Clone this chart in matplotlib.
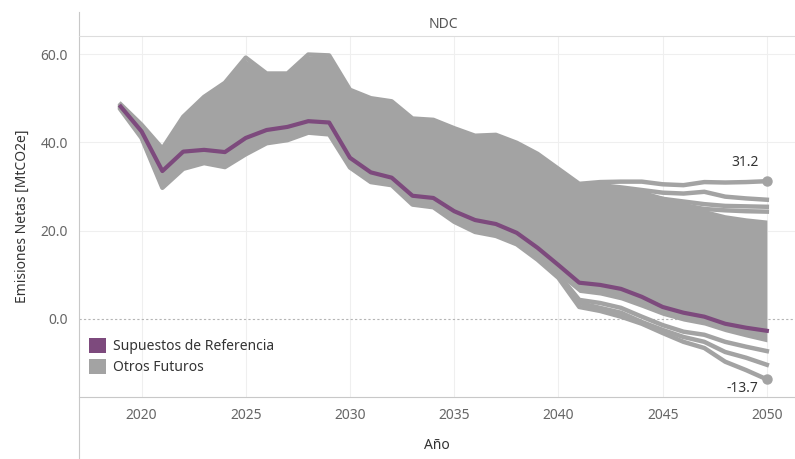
import matplotlib.pyplot as plt
from matplotlib.lines import Line2D
from matplotlib.patches import Patch

plt.rcParams['font.family'] = ['Noto Sans', 'DejaVu Sans']

# years of the run
anios = list(range(2019, 2051))

# purple reference future
referencia = [48.1, 42.5, 33.5, 37.9, 38.3, 37.8, 41.0, 42.8, 43.5, 44.8, 44.5,
              36.5, 33.2, 32.0, 27.9, 27.4, 24.4, 22.4, 21.5, 19.5, 16.1, 12.2,
              8.2, 7.7, 6.8, 5.0, 2.7, 1.4, 0.5, -1.1, -2.0, -2.7]

# highest future (ends at 31.2)
futuro_max = [48.6, 44.0, 38.6, 45.8, 50.3, 53.5, 59.2, 55.6, 55.6, 59.9, 59.7,
              51.9, 50.0, 49.3, 45.4, 45.1, 43.2, 41.5, 41.7, 39.9, 37.4, 34.0,
              30.6, 31.0, 31.1, 31.1, 30.5, 30.3, 31.0, 30.9, 31.0, 31.2]

# lowest future (ends at -13.7)
futuro_min = [47.4, 41.0, 29.7, 34.0, 35.3, 34.4, 37.3, 39.8, 40.5, 42.2, 41.8,
              34.3, 31.0, 30.3, 25.9, 25.3, 22.0, 19.7, 18.8, 16.9, 13.4, 9.3,
              2.7, 1.8, 0.5, -1.1, -3.2, -5.2, -6.6, -9.7, -11.6, -13.7]

# a few more futures that split off from the bundle near the end
futuro_b = [48.3, 43.5, 37.5, 44.8, 49.5, 52.5, 58.0, 54.8, 54.8, 59.0, 58.8,
            51.0, 49.2, 48.5, 44.6, 44.3, 42.4, 40.7, 40.8, 39.0, 36.6, 33.2,
            30.0, 30.3, 29.8, 29.2, 28.6, 28.4, 28.8, 27.7, 27.3, 27.0]
futuro_c = [48.0, 43.0, 37.0, 44.0, 48.5, 51.5, 57.0, 54.0, 54.0, 58.0, 58.0,
            50.5, 48.5, 48.0, 44.0, 43.8, 42.0, 40.2, 40.2, 38.5, 36.0, 32.5,
            29.5, 29.4, 28.8, 28.0, 27.2, 26.6, 26.0, 25.6, 25.5, 25.4]
futuro_d = [48.0, 43.0, 36.5, 43.5, 48.0, 51.0, 56.5, 53.5, 53.5, 57.5, 57.5,
            50.0, 48.0, 47.5, 43.5, 43.3, 41.5, 39.8, 39.8, 38.0, 35.5, 32.0,
            29.2, 29.0, 28.4, 27.5, 26.6, 25.8, 24.9, 24.6, 24.4, 24.3]
futuro_e = [47.6, 41.4, 30.2, 34.5, 35.8, 34.9, 37.8, 40.3, 41.0, 42.7, 42.3,
            34.8, 31.5, 30.8, 26.4, 25.8, 22.5, 20.2, 19.3, 17.4, 13.9, 9.8,
            3.6, 2.5, 1.4, -0.7, -2.5, -4.1, -5.2, -7.5, -8.8, -10.4]
futuro_f = [47.7, 41.6, 30.5, 34.8, 36.1, 35.2, 38.1, 40.6, 41.3, 43.0, 42.6,
            35.1, 31.8, 31.1, 26.7, 26.1, 22.8, 20.5, 19.6, 17.7, 14.2, 10.1,
            4.3, 3.6, 2.5, 0.5, -1.4, -2.9, -3.6, -5.2, -6.3, -7.3]

# edges of the dense bundle of the other futures
banda_sup = [48.3, 43.6, 38.0, 45.2, 49.8, 53.0, 58.6, 55.0, 55.0, 59.2, 59.0,
             51.3, 49.4, 48.7, 44.8, 44.5, 42.6, 40.9, 41.0, 39.2, 36.8, 33.4,
             30.0, 30.2, 30.0, 29.2, 27.8, 26.5, 24.8, 23.6, 22.9, 22.4]
banda_inf = [47.7, 41.5, 30.3, 34.6, 35.9, 35.0, 37.9, 40.4, 41.1, 42.8, 42.4,
             34.9, 31.6, 30.9, 26.5, 25.9, 22.6, 20.3, 19.4, 17.5, 14.0, 9.9,
             6.0, 5.4, 4.3, 2.6, 0.8, -0.5, -1.4, -2.9, -4.1, -5.2]

gris = '#A3A3A3'
morado = '#7D4A7D'

fig = plt.figure(figsize=(7.95, 4.59), dpi=100)
ax = fig.add_axes([79 / 795, 1 - 397 / 459, 716 / 795, 361 / 459])

# gridlines
for yr in range(2020, 2051, 5):
    ax.axvline(yr, color='#EFEFEF', lw=0.8, zorder=0)
for v in [20, 40, 60]:
    ax.axhline(v, color='#EFEFEF', lw=0.8, zorder=0)
ax.axhline(0, color='#B5B5B5', lw=0.8, ls=(0, (2, 2)), zorder=0)

# the bundle of other futures
ax.fill_between(anios, banda_inf, banda_sup, color=gris, lw=0, zorder=1)
for serie in [futuro_b, futuro_c, futuro_d, futuro_e, futuro_f, futuro_max, futuro_min]:
    ax.plot(anios, serie, color=gris, lw=3.2, solid_joinstyle='round', zorder=2)

ax.plot(anios, referencia, color=morado, lw=3, solid_joinstyle='round', zorder=3)

# end labels
ax.plot(anios[-1], futuro_max[-1], 'o', color=gris, ms=6.5, zorder=3)
ax.plot(anios[-1], futuro_min[-1], 'o', color=gris, ms=6.5, zorder=3)
ax.annotate(f'{futuro_max[-1]:.1f}', (anios[-1], futuro_max[-1]), xytext=(-6, 8),
            textcoords='offset points', ha='right', va='bottom', fontsize=10, color='#333333')
ax.annotate(f'{futuro_min[-1]:.1f}', (anios[-1], futuro_min[-1]), xytext=(-6, -1),
            textcoords='offset points', ha='right', va='top', fontsize=10, color='#333333')

ax.set_xlim(2017.0, 2051.35)
ax.set_ylim(-17.7, 64.1)
ax.set_xticks(range(2020, 2051, 5))
ax.set_yticks([0, 20, 40, 60])
ax.set_yticklabels([f'{v:.1f}' for v in [0, 20, 40, 60]])
ax.tick_params(length=0, labelsize=10, labelcolor='#666666')
ax.tick_params(axis='y', pad=8)
ax.tick_params(axis='x', pad=8)

for s in ['top', 'right', 'left']:
    ax.spines[s].set_visible(False)
ax.spines['bottom'].set_color('#C8C8C8')

ax.set_xlabel('Año', fontsize=10, color='#333333', labelpad=11)
ax.set_ylabel('Emisiones Netas [MtCO2e]', fontsize=10, color='#333333', labelpad=8)

# header band and left border like the original layout
fig.add_artist(Line2D([79 / 795, 79 / 795], [0, 1 - 12 / 459], color='#C8C8C8', lw=0.8))
fig.add_artist(Line2D([79 / 795, 1], [1 - 36 / 459, 1 - 36 / 459], color='#DDDDDD', lw=0.8))
fig.text(443 / 795, 1 - 25 / 459, 'NDC', ha='center', va='center', fontsize=10, color='#555555')

handles = [Patch(facecolor=morado, label='Supuestos de Referencia'),
           Patch(facecolor=gris, label='Otros Futuros')]
ax.legend(handles=handles, loc='upper left', bbox_to_anchor=(0.0, 0.19), frameon=False,
          fontsize=10, labelcolor='#333333', handlelength=1.25, handleheight=1.25,
          handletextpad=0.5, labelspacing=0.35, borderaxespad=0.3)

fig.savefig('out.png', dpi=100)
